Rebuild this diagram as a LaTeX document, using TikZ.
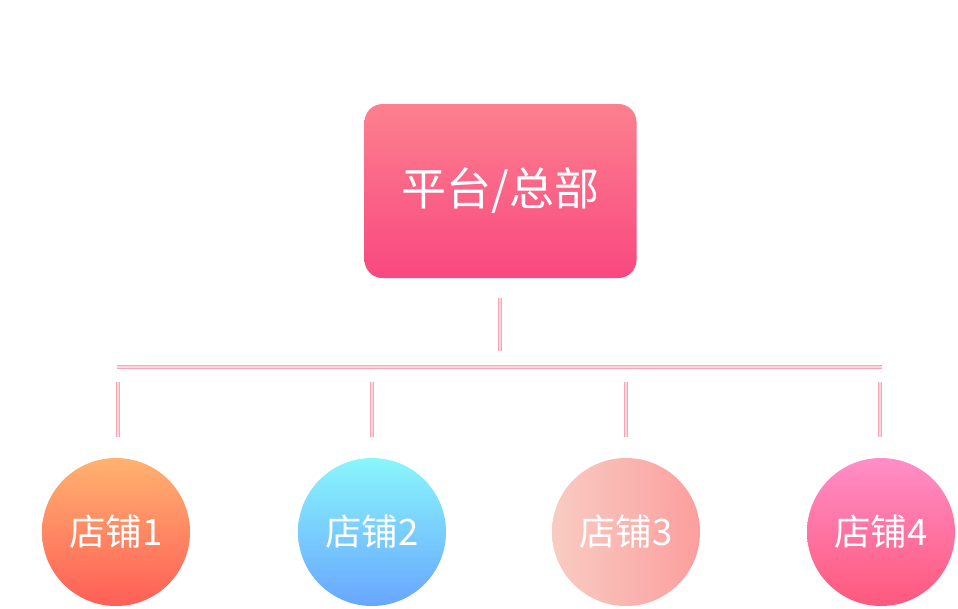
\documentclass[tikz,border=0pt]{standalone}
\usepackage{fontspec}
\newfontfamily\cjk{Noto Sans CJK SC}
\begin{document}
\begin{tikzpicture}[x=1pt,y=-1pt,
  conn/.style={draw={rgb,255:red,248;green,166;blue,180},line width=1pt,double={rgb,255:red,255;green,214;blue,222},double distance=2pt},
  hq/.style={rounded corners=18pt,minimum width=272pt,minimum height=174pt,inner sep=0pt,text=white,font=\cjk\fontsize{45}{52}\selectfont,top color=c0t,bottom color=c0b},
  shop/.style={circle,minimum size=148pt,inner sep=0pt,text=white,font=\cjk\fontsize{36.5}{42}\selectfont}]
\definecolor{c0t}{RGB}{252,128,142}
\definecolor{c0b}{RGB}{249,72,128}
\definecolor{c1t}{RGB}{255,178,112}
\definecolor{c1b}{RGB}{255,94,86}
\definecolor{c2t}{RGB}{138,246,252}
\definecolor{c2b}{RGB}{104,166,255}
\definecolor{c3l}{RGB}{248,204,194}
\definecolor{c3r}{RGB}{252,158,158}
\definecolor{c4t}{RGB}{255,142,200}
\definecolor{c4b}{RGB}{255,88,124}
\useasboundingbox (0,0) rectangle (958,608);
\node[hq] (hq) at (500.5,191) {平台/总部};
\node[shop,top color=c1t,bottom color=c1b] (s1) at (116,532) {店铺1};
\node[shop,top color=c2t,bottom color=c2b] (s2) at (372,532) {店铺2};
\node[shop,left color=c3l,right color=c3r] (s3) at (626,532) {店铺3};
\node[shop,top color=c4t,bottom color=c4b] (s4) at (881,532) {店铺4};
\coordinate (a0) at (500,298); \coordinate (b0) at (500,351);
\coordinate (hl) at (117,367); \coordinate (hr) at (882,367);
\foreach \i/\x in {1/118,2/372,3/626,4/880}{
  \coordinate (a\i) at (\x,382); \coordinate (b\i) at (\x,437);
  \draw[conn] (a\i) -- (b\i);
}
\draw[conn] (a0) -- (b0);
\draw[conn] (hl) -- (hr);
\end{tikzpicture}
\end{document}
